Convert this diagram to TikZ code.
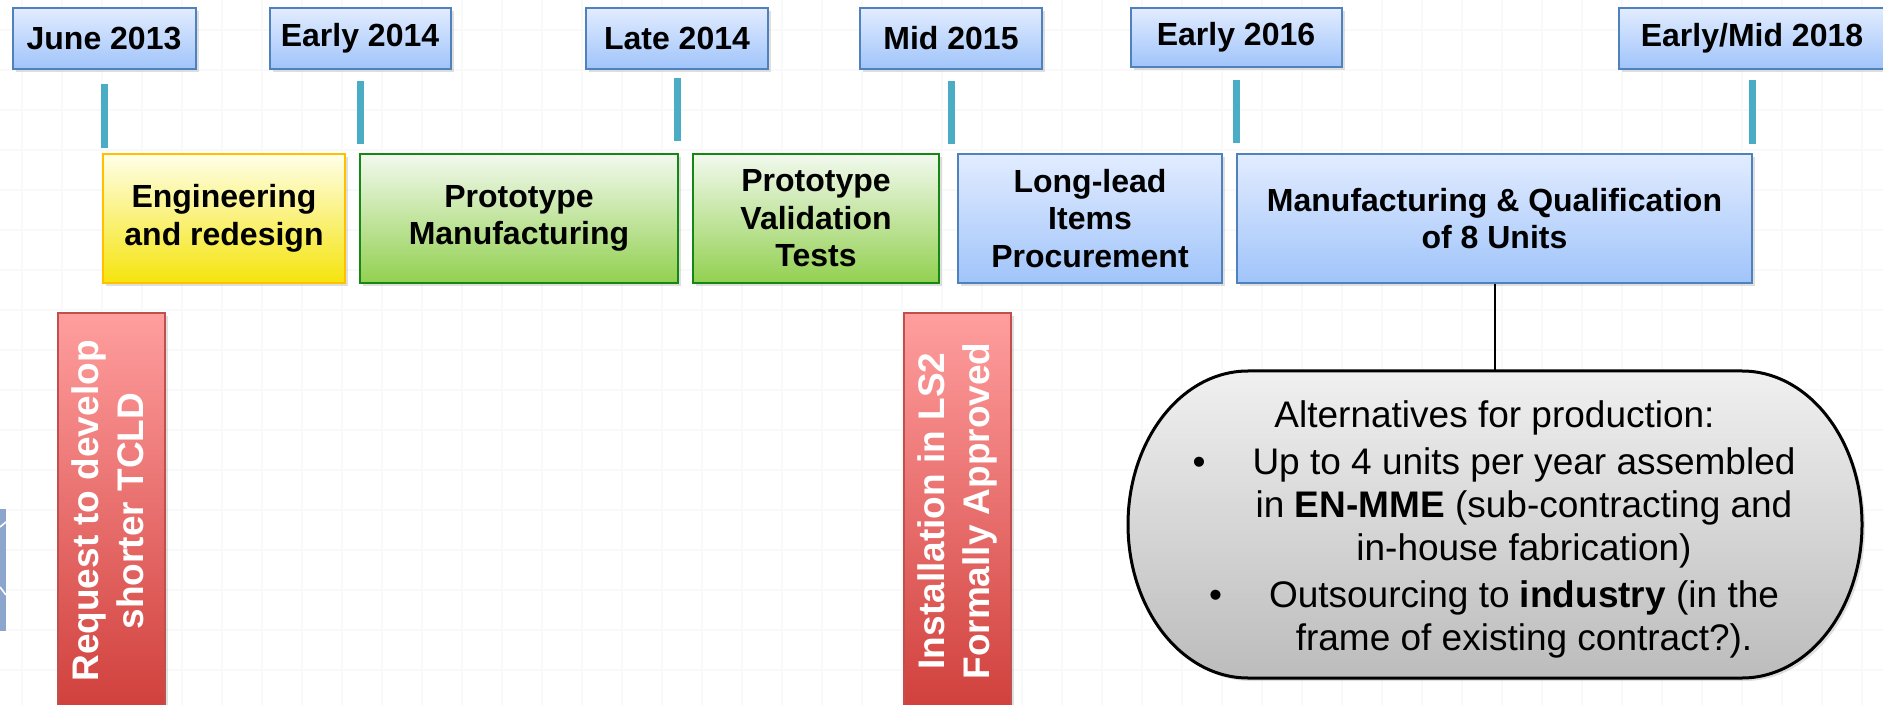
\documentclass[tikz,border=0pt]{standalone}
\usepackage{fontspec}
\setmainfont{Liberation Sans}
\usepackage{tikz}
\usetikzlibrary{positioning,shadows}

\definecolor{boxblue}{RGB}{79,129,189}
\definecolor{blueTop}{RGB}{226,236,255}
\definecolor{blueBot}{RGB}{160,196,250}
\definecolor{yelTop}{RGB}{255,255,232}
\definecolor{yelBot}{RGB}{245,228,12}
\definecolor{yelLine}{RGB}{255,192,0}
\definecolor{grnTop}{RGB}{242,249,238}
\definecolor{grnBot}{RGB}{146,208,80}
\definecolor{grnLine}{RGB}{20,135,20}
\definecolor{redTop}{RGB}{255,158,158}
\definecolor{redBot}{RGB}{208,64,60}
\definecolor{redLine}{RGB}{192,80,77}
\definecolor{tickcol}{RGB}{75,172,198}
\definecolor{altTop}{RGB}{240,240,240}
\definecolor{altBot}{RGB}{188,188,188}
\definecolor{edgeblue}{RGB}{140,165,205}

\begin{document}
\begin{tikzpicture}[x=0.5pt,y=-0.5pt,
	gridline/.style={black!2.5,line width=1pt},
	softshadow/.style={drop shadow={shadow xshift=1.5pt,shadow yshift=-1.5pt,opacity=0.25}},
	datebox/.style={rectangle,draw=boxblue,line width=1pt,top color=blueTop,bottom color=blueBot,minimum height=30.5pt,inner sep=0pt,font=\fontsize{16}{19}\selectfont\bfseries,softshadow},
	phase/.style={rectangle,line width=1pt,minimum height=64.5pt,inner sep=0pt,align=center,font=\fontsize{16}{18.75}\selectfont\bfseries,softshadow},
	bluephase/.style={phase,draw=boxblue,top color=blueTop,bottom color=blueBot},
	yelphase/.style={phase,draw=yelLine,top color=yelTop,bottom color=yelBot},
	grnphase/.style={phase,draw=grnLine,top color=grnTop,bottom color=grnBot},
	event/.style={rectangle,draw=redLine,line width=1pt,top color=redTop,bottom color=redBot,minimum width=53.5pt,minimum height=198pt,inner sep=0pt,text=white,font=\fontsize{18.5}{22.5}\selectfont\bfseries,softshadow},
	tickbar/.style={tickcol,line width=3.5pt},
	link/.style={black,line width=1pt},
	altshape/.style={draw=black,line width=1.5pt,top color=altTop,bottom color=altBot,softshadow},
	alttext/.style={inner sep=0pt,font=\fontsize{18.5}{21.5}\selectfont}]
\useasboundingbox (0,0) rectangle (1883,705);
\clip (0,0) rectangle (1883,705);

% background grid
\foreach \gx in {22,62,...,1882} \draw[gridline] (\gx,0) -- (\gx,705);
\foreach \gy in {30,70,...,710} \draw[gridline] (0,\gy) -- (1883,\gy);

% cut-off shape at the left edge
\fill[edgeblue] (-4,509) rectangle (6,631);
\draw[white,line width=0.8pt] (0,527) -- (6,522);
\draw[white,line width=0.8pt] (0,587) -- (6,595);

% dates
\node [datebox,minimum width=91.5pt] (d13) at (104,38.5) {June 2013};
\node [datebox,minimum width=90.5pt] (e14) at (360,38.5) {Early 2014};
\node [datebox,minimum width=91pt] (l14) at (677,38.5) {Late 2014};
\node [datebox,minimum width=91pt] (m15) at (951,38.5) {Mid 2015};
\node [datebox,minimum width=105.5pt,minimum height=29.5pt] (e16) at (1236,37.5) {Early 2016};
\node [datebox,minimum width=133pt] (em18) at (1752,38.5) {Early/Mid 2018};

\draw[tickbar] ([yshift=-7pt]d13.south) -- ++(0,64);
\draw[tickbar] ([yshift=-5.5pt]e14.south) -- ++(0,63);
\draw[tickbar] ([yshift=-4pt]l14.south) -- ++(0,63);
\draw[tickbar] ([yshift=-5.5pt]m15.south) -- ++(0,63);
\draw[tickbar] ([yshift=-6pt]e16.south) -- ++(0,63);
\draw[tickbar] ([yshift=-5pt]em18.south) -- ++(0,64);

% phases
\node [yelphase,minimum width=121pt] (eng) at (224,218.5) {Engineering\\and redesign};
\node [grnphase,minimum width=159pt] (pman) at (519,218.5) {Prototype\\Manufacturing};
\node [grnphase,minimum width=123pt] (pval) at (816,218.5) {Prototype\\Validation\\Tests};
\node [bluephase,minimum width=132pt] (llead) at (1090,218.5) {Long-lead\\Items\\Procurement};
\node [bluephase,minimum width=257.5pt] (mq) at (1494.5,218.5) {Manufacturing \& Qualification\\of 8 Units};

% events
\node [event] (req) at (111.5,511) {\rotatebox{90}{\begin{tabular}{@{}c@{}}Request to develop\\shorter TCLD\end{tabular}}};
\node [event] (inst) at (957.5,511) {\rotatebox{90}{\begin{tabular}{@{}c@{}}Installation in LS2\\Formally Approved\end{tabular}}};

% production alternatives
\coordinate (alttop) at (1494.5,371);
\draw[link] (mq.south) -- (alttop);
\draw[altshape] (1248,371) -- (1742,371)
	arc[start angle=90,end angle=-90,x radius=60pt,y radius=76.75pt] -- (1248,678)
	arc[start angle=270,end angle=90,x radius=60pt,y radius=76.75pt] -- cycle;
\node [alttext] (alt) at (1524,530.5) {\begin{tabular}{@{}c@{}}
	Alternatives for production:\makebox[29.5pt]{}\\[2pt]
	\llap{\textbullet\hspace{23.5pt}}Up to 4 units per year assembled\\
	in \textbf{EN-MME} (sub-contracting and\\
	in-house fabrication)\\[2pt]
	\llap{\textbullet\hspace{23.5pt}}Outsourcing to \textbf{industry} (in the\\
	frame of existing contract?).
\end{tabular}};
\end{tikzpicture}
\end{document}
